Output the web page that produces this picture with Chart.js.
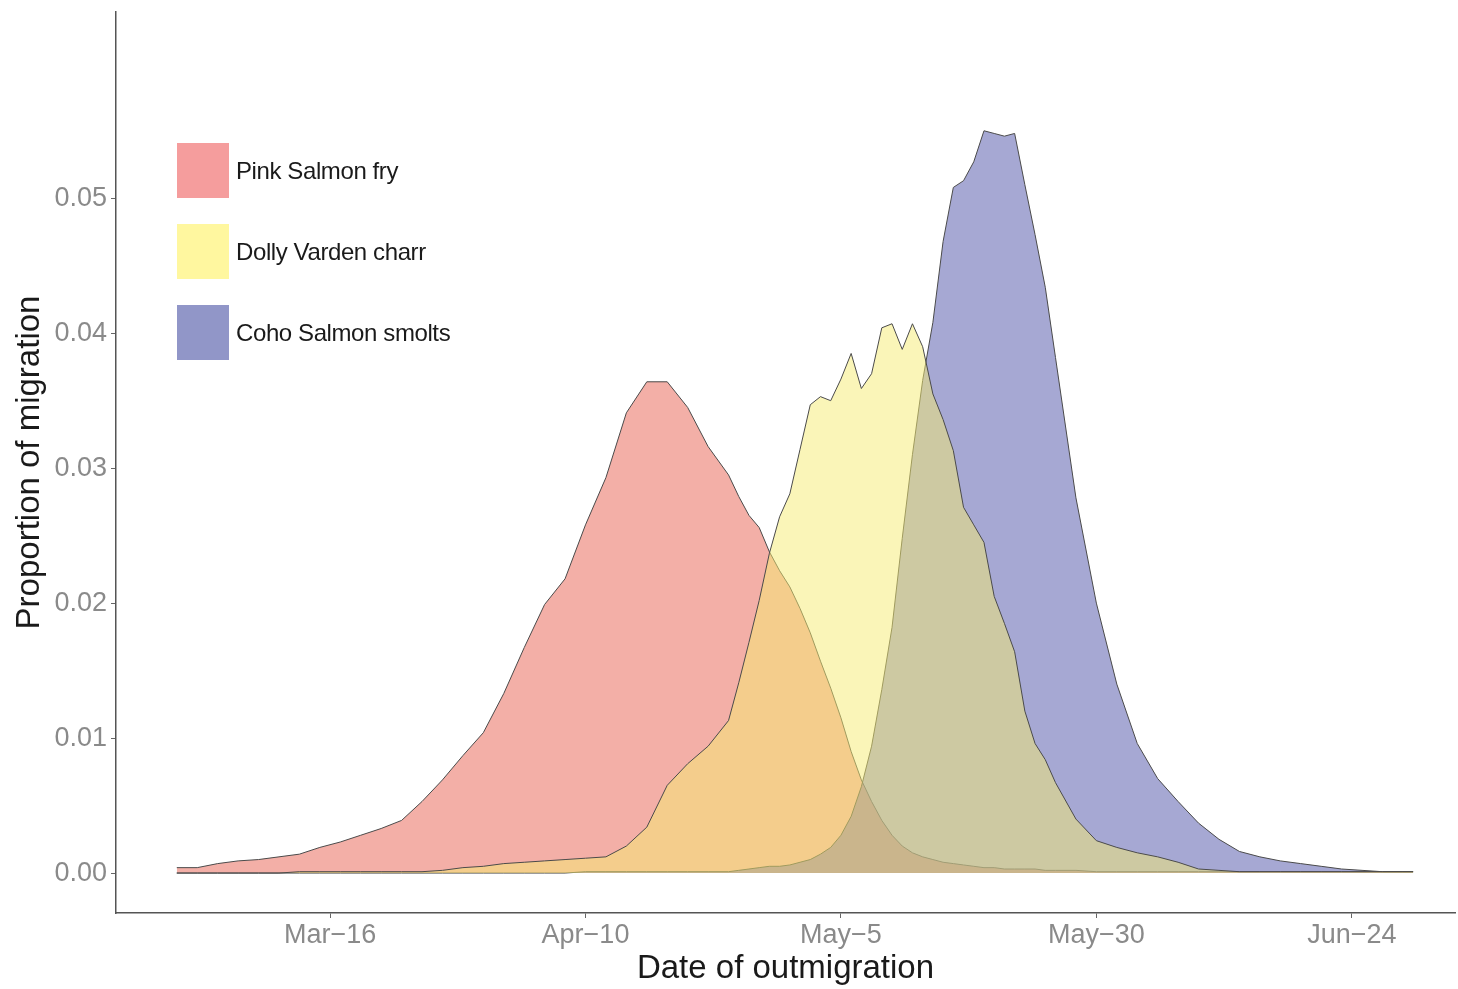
<!DOCTYPE html>
<html>
<head>
<meta charset="utf-8">
<script src="https://cdn.jsdelivr.net/npm/chart.js@4.4.1/dist/chart.umd.min.js"></script>
<style>
  html, body { margin: 0; padding: 0; background: #fff; }
</style>
</head>
<body>
<canvas id="migChart" width="1458" height="989"></canvas>
<script>
// day of year (Mar 1 = 60)
const days = [60, 62, 64, 66, 68, 70, 72, 74, 76, 78, 80, 82, 84, 86, 88, 90, 92, 94, 96, 98,
  100, 102, 104, 106, 108, 110, 112, 114,
  115, 116, 117, 118, 119, 120, 121, 122, 123, 124, 125, 126, 127, 128, 129, 130,
  131, 132, 133, 134, 135, 136, 137, 138, 139, 140, 141, 142, 143, 144, 145, 146,
  148, 150, 152, 154, 156, 158, 160, 162, 164, 166, 168, 170, 172, 174, 176, 178, 180, 181];

const pinkSalmon = [0.0004, 0.0004, 0.0007, 0.0009, 0.0010, 0.0012, 0.0014, 0.0019, 0.0023, 0.0028,
  0.0033, 0.0039, 0.0053, 0.0069, 0.0087, 0.0104, 0.0133, 0.0167, 0.0199, 0.0218,
  0.0258, 0.0293, 0.0341, 0.0364, 0.0364, 0.0345, 0.0316, 0.0295,
  0.0279, 0.0265, 0.0256, 0.0238, 0.0224, 0.0212, 0.0196, 0.0178, 0.0157, 0.0137, 0.0115, 0.0090,
  0.0069, 0.0053, 0.0039, 0.0028, 0.0020, 0.0015, 0.0012, 0.0010, 0.0008, 0.0007, 0.0006, 0.0005,
  0.0004, 0.0004, 0.0003, 0.0003, 0.0003, 0.0003, 0.0002, 0.0002,
  0.0002, 0.0001, 0.0001, 0.0001, 0.0001, 0.0001, 0.0001, 0.0001, 0.0001, 0.0001, 0.0001, 0.0001,
  0.0001, 0.0001, 0.0001, 0.0001, 0.0001, 0.0001];

const dollyVarden = [0, 0, 0, 0, 0, 0, 0.0001, 0.0001, 0.0001, 0.0001,
  0.0001, 0.0001, 0.0001, 0.0002, 0.0004, 0.0005, 0.0007, 0.0008, 0.0009, 0.0010,
  0.0011, 0.0012, 0.0020, 0.0034, 0.0065, 0.0081, 0.0094, 0.0113,
  0.0141, 0.0171, 0.0202, 0.0237, 0.0264, 0.0281, 0.0314, 0.0347, 0.0353, 0.0350, 0.0366, 0.0385,
  0.0359, 0.0370, 0.0404, 0.0407, 0.0388, 0.0407, 0.0390, 0.0355, 0.0336, 0.0313, 0.0271, 0.0258,
  0.0245, 0.0205, 0.0185, 0.0164, 0.0120, 0.0096, 0.0084, 0.0067,
  0.0040, 0.0024, 0.0019, 0.0015, 0.0012, 0.0008, 0.0003, 0.0002, 0.0001, 0.0001, 0.0001, 0.0001,
  0.0001, 0.0001, 0.0001, 0.0001, 0.0001, 0.0001];

const cohoSalmon = [0, 0, 0, 0, 0, 0, 0, 0, 0, 0,
  0, 0, 0, 0, 0, 0, 0, 0, 0, 0,
  0.0001, 0.0001, 0.0001, 0.0001, 0.0001, 0.0001, 0.0001, 0.0001,
  0.0002, 0.0003, 0.0004, 0.0005, 0.0005, 0.0006, 0.0008, 0.0010, 0.0014, 0.0019, 0.0028, 0.0042,
  0.0064, 0.0094, 0.0136, 0.0182, 0.0248, 0.0310, 0.0365, 0.0408, 0.0468, 0.0508, 0.0513, 0.0527,
  0.0550, 0.0548, 0.0546, 0.0548, 0.0510, 0.0473, 0.0434, 0.0382,
  0.0278, 0.0200, 0.0140, 0.0096, 0.0070, 0.0053, 0.0037, 0.0025, 0.0016, 0.0012, 0.0009, 0.0007,
  0.0005, 0.0003, 0.0002, 0.0001, 0.0001, 0.0001];

const xTickDays = [75, 100, 125, 150, 175];
const xTickLabels = ['Mar\u221216', 'Apr\u221210', 'May\u22125', 'May\u221230', 'Jun\u221224'];
const yTickValues = [0, 0.01, 0.02, 0.03, 0.04, 0.05];

const toPoints = vals => days.map((d, i) => ({ x: d, y: vals[i] }));

// legend drawn inside the panel, top left
const legendBoxes = {
  id: 'legendBoxes',
  afterDraw(chart) {
    const ctx = chart.ctx;
    ctx.save();
    ctx.font = '24px "Liberation Sans", Arial, sans-serif';
    ctx.letterSpacing = '-0.4px';
    ctx.textBaseline = 'middle';
    chart.data.datasets.forEach((ds, i) => {
      const top = 143 + i * 81;
      ctx.fillStyle = ds.keyColor;
      ctx.fillRect(177, top, 52, 55);
      ctx.fillStyle = '#1a1a1a';
      ctx.fillText(ds.label, 236, top + 29);
    });
    ctx.restore();
  }
};

const tickFont = { family: '"Liberation Sans", Arial, sans-serif', size: 27 };
const titleFont = { family: '"Liberation Sans", Arial, sans-serif', size: 33 };

new Chart(document.getElementById('migChart'), {
  type: 'line',
  data: {
    datasets: [{
      label: 'Pink Salmon fry',
      data: toPoints(pinkSalmon),
      backgroundColor: 'rgba(232, 95, 80, 0.5)',
      keyColor: '#f59d9d',
      order: 3
    }, {
      label: 'Dolly Varden charr',
      data: toPoints(dollyVarden),
      backgroundColor: 'rgba(245, 235, 113, 0.5)',
      keyColor: '#fff79f',
      order: 1
    }, {
      label: 'Coho Salmon smolts',
      data: toPoints(cohoSalmon),
      backgroundColor: 'rgba(77, 81, 167, 0.5)',
      keyColor: '#9196c8',
      order: 2
    }]
  },
  options: {
    responsive: false,
    animation: false,
    devicePixelRatio: 1,
    layout: { padding: { top: 12, right: 3, left: 0, bottom: 0 } },
    elements: {
      line: { tension: 0, borderWidth: 1, borderColor: '#4a4a4a', fill: 'origin' },
      point: { radius: 0 }
    },
    plugins: {
      legend: { display: false },
      tooltip: { enabled: false }
    },
    scales: {
      x: {
        type: 'linear',
        min: 54.05,
        max: 185.1,
        afterBuildTicks: scale => { scale.ticks = xTickDays.map(v => ({ value: v })); },
        afterFit: scale => { scale.height = 76; scale.paddingLeft = 0; scale.paddingRight = 0; },
        ticks: {
          autoSkip: false,
          maxRotation: 0,
          padding: 1,
          color: '#8a8a8a',
          font: tickFont,
          callback: (value, index) => xTickLabels[index]
        },
        grid: { drawOnChartArea: false, tickLength: 5, color: '#666' },
        border: { color: '#555', width: 1.5 },
        title: {
          display: true,
          text: 'Date of outmigration',
          color: '#1a1a1a',
          font: titleFont,
          padding: { top: 0, bottom: 0 }
        }
      },
      y: {
        min: -0.00296,
        max: 0.0638,
        afterBuildTicks: scale => { scale.ticks = yTickValues.map(v => ({ value: v })); },
        afterFit: scale => { scale.width = 116; scale.paddingTop = 0; scale.paddingBottom = 0; },
        ticks: {
          padding: 4,
          color: '#8a8a8a',
          font: tickFont,
          callback: value => value.toFixed(2)
        },
        grid: { drawOnChartArea: false, tickLength: 5, color: '#666' },
        border: { color: '#555', width: 1.5 },
        title: {
          display: true,
          text: 'Proportion of migration',
          color: '#1a1a1a',
          font: titleFont,
          padding: { top: 10, bottom: 0 }
        }
      }
    }
  },
  plugins: [legendBoxes]
});
</script>
</body>
</html>
